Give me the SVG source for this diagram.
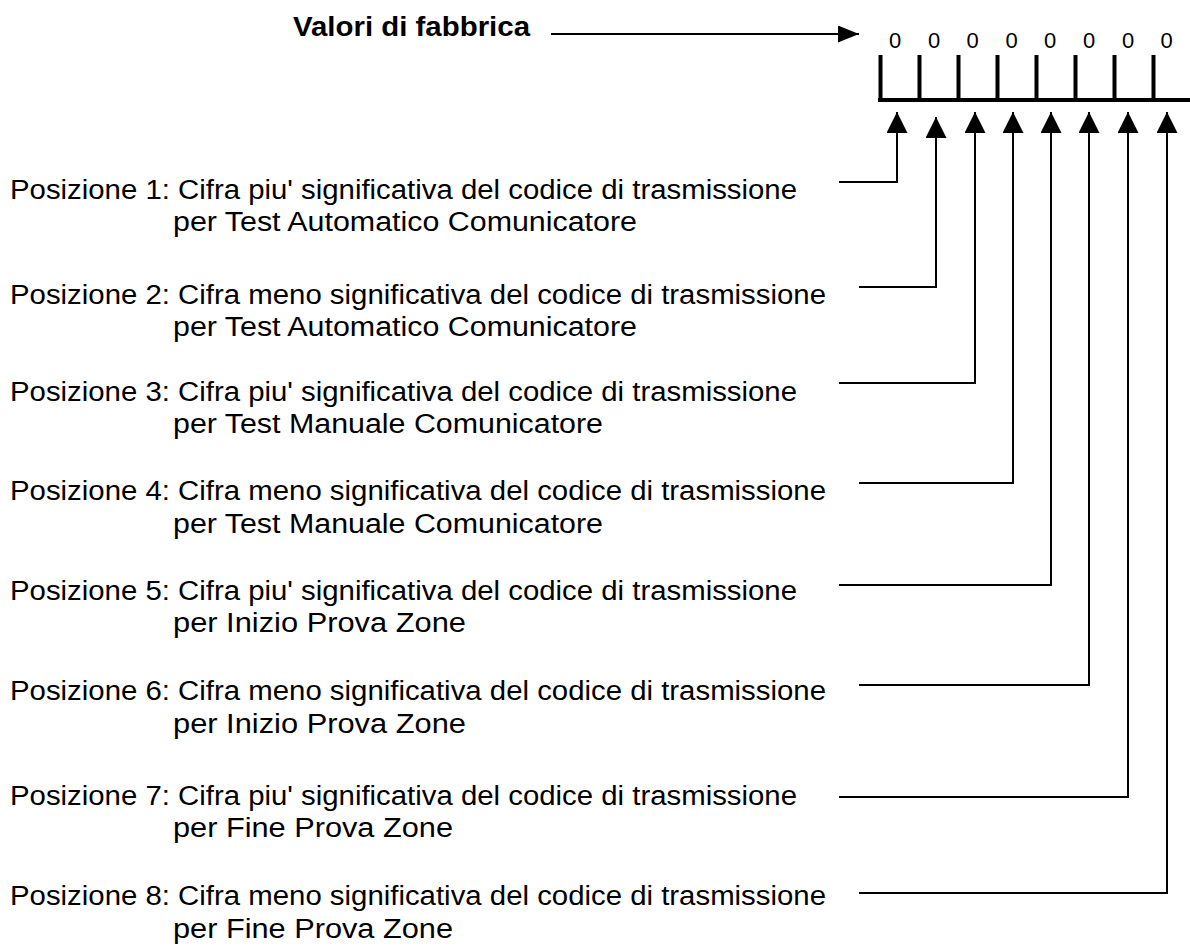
<svg xmlns="http://www.w3.org/2000/svg" width="1190" height="950" viewBox="0 0 1190 950">
<style>
.t{font-family:"Liberation Sans",Arial,sans-serif;font-size:27px;fill:#000}
.b{font-family:"Liberation Sans",Arial,sans-serif;font-size:27px;font-weight:bold;fill:#000}
.d{font-family:"Liberation Sans",Arial,sans-serif;font-size:22px;fill:#000;text-anchor:middle}
.c{fill:none;stroke:#000;stroke-width:2}
.k{fill:none;stroke:#000;stroke-width:4}
</style>
<defs>
<marker id="up" viewBox="0 0 21 21" refX="21" refY="10.5" markerWidth="21" markerHeight="21" markerUnits="userSpaceOnUse" orient="auto"><path d="M0,0 L21,10.5 L0,21 Z" fill="#000"/></marker>
<marker id="rt" viewBox="0 0 21 17" refX="21" refY="8.5" markerWidth="21" markerHeight="17" markerUnits="userSpaceOnUse" orient="auto"><path d="M0,0 L21,8.5 L0,17 Z" fill="#000"/></marker>
</defs>
<rect width="1190" height="950" fill="#fff"/>
<g id="header">
<text class="b" x="293" y="36" textLength="237" lengthAdjust="spacingAndGlyphs">Valori di fabbrica</text>
</g>
<g id="register">
<path class="k" d="M878 100 H1190 M880.5 55 V100 M919.5 55 V100 M958.5 55 V100 M997.5 55 V100 M1036.5 55 V100 M1075.5 55 V100 M1114.5 55 V100 M1153.5 55 V100"/>
<text class="d" x="895" y="48">0</text>
<text class="d" x="934" y="48">0</text>
<text class="d" x="972.5" y="48">0</text>
<text class="d" x="1011.5" y="48">0</text>
<text class="d" x="1050" y="48">0</text>
<text class="d" x="1089" y="48">0</text>
<text class="d" x="1128" y="48">0</text>
<text class="d" x="1166.5" y="48">0</text>
</g>
<g id="labels">
<g id="p1"><text class="t" x="10" y="199" textLength="787" lengthAdjust="spacingAndGlyphs">Posizione 1: Cifra piu' significativa del codice di trasmissione</text><text class="t" x="173" y="231" textLength="464" lengthAdjust="spacingAndGlyphs">per Test Automatico Comunicatore</text></g>
<g id="p2"><text class="t" x="10" y="304" textLength="816" lengthAdjust="spacingAndGlyphs">Posizione 2: Cifra meno significativa del codice di trasmissione</text><text class="t" x="173" y="336" textLength="464" lengthAdjust="spacingAndGlyphs">per Test Automatico Comunicatore</text></g>
<g id="p3"><text class="t" x="10" y="401" textLength="787" lengthAdjust="spacingAndGlyphs">Posizione 3: Cifra piu' significativa del codice di trasmissione</text><text class="t" x="173" y="433" textLength="430" lengthAdjust="spacingAndGlyphs">per Test Manuale Comunicatore</text></g>
<g id="p4"><text class="t" x="10" y="500" textLength="816" lengthAdjust="spacingAndGlyphs">Posizione 4: Cifra meno significativa del codice di trasmissione</text><text class="t" x="173" y="533" textLength="430" lengthAdjust="spacingAndGlyphs">per Test Manuale Comunicatore</text></g>
<g id="p5"><text class="t" x="10" y="600" textLength="787" lengthAdjust="spacingAndGlyphs">Posizione 5: Cifra piu' significativa del codice di trasmissione</text><text class="t" x="173" y="632" textLength="293" lengthAdjust="spacingAndGlyphs">per Inizio Prova Zone</text></g>
<g id="p6"><text class="t" x="10" y="700" textLength="816" lengthAdjust="spacingAndGlyphs">Posizione 6: Cifra meno significativa del codice di trasmissione</text><text class="t" x="173" y="733" textLength="293" lengthAdjust="spacingAndGlyphs">per Inizio Prova Zone</text></g>
<g id="p7"><text class="t" x="10" y="805" textLength="787" lengthAdjust="spacingAndGlyphs">Posizione 7: Cifra piu' significativa del codice di trasmissione</text><text class="t" x="173" y="837" textLength="280" lengthAdjust="spacingAndGlyphs">per Fine Prova Zone</text></g>
<g id="p8"><text class="t" x="10" y="905" textLength="816" lengthAdjust="spacingAndGlyphs">Posizione 8: Cifra meno significativa del codice di trasmissione</text><text class="t" x="173" y="938" textLength="280" lengthAdjust="spacingAndGlyphs">per Fine Prova Zone</text></g>
</g>
<g id="connectors">
<path class="c" d="M551 34 H859" marker-end="url(#rt)"/>
<path class="c" d="M839 182 H897 V112" marker-end="url(#up)"/>
<path class="c" d="M859 287 H936 V117" marker-end="url(#up)"/>
<path class="c" d="M839 383 H975 V112" marker-end="url(#up)"/>
<path class="c" d="M859 483 H1013 V112" marker-end="url(#up)"/>
<path class="c" d="M839 585 H1051 V112" marker-end="url(#up)"/>
<path class="c" d="M859 685 H1089 V112" marker-end="url(#up)"/>
<path class="c" d="M839 797 H1128 V112" marker-end="url(#up)"/>
<path class="c" d="M859 893 H1167 V112" marker-end="url(#up)"/>
</g>
</svg>
